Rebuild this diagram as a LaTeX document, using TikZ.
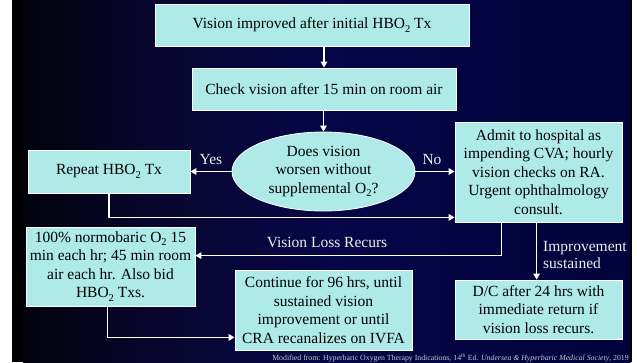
\documentclass[tikz,border=0pt]{standalone}
\usepackage{fontspec}
\setmainfont{Liberation Serif}
\usetikzlibrary{arrows.meta,shapes.geometric,calc}
\definecolor{boxfill}{RGB}{174,234,232}
\definecolor{bgA}{RGB}{2,2,12}
\definecolor{bgB}{RGB}{8,6,45}
\definecolor{bgC}{RGB}{6,6,72}
\definecolor{bgD}{RGB}{2,2,60}
\definecolor{lbl}{RGB}{238,238,238}
\definecolor{footc}{RGB}{200,200,212}
\newcommand{\subtwo}{\raisebox{-3.6pt}{\fontsize{10.5}{10.5}\selectfont 2}}
\begin{document}
\begin{tikzpicture}[x=1pt,y=-1pt,
  box/.style={draw=white, line width=0.8pt, fill=boxfill, text=black, inner sep=0pt,
    align=center, font=\fontsize{15.5}{18.5}\selectfont},
  conn/.style={draw=white, line width=1.5pt, -{Triangle[length=6pt,width=6.5pt]}},
  lab/.style={text=lbl, inner sep=0pt, font=\fontsize{15.5}{18.5}\selectfont}]
\useasboundingbox (0,0) rectangle (637,362);
% background
\fill[white] (0,0) rectangle (637,362);
\fill[black] (12,0) rectangle (23.5,362);
\shade[left color=bgA, right color=bgB] (23,0) rectangle (150.5,362);
\shade[left color=bgB, right color=bgC] (150,0) rectangle (330.5,362);
\shade[left color=bgC, right color=bgD] (330,0) rectangle (630.5,362);
\fill[black] (630,0) rectangle (632,362);
% nodes
\node[box, minimum width=314pt, minimum height=42pt] (b1) at (312,25) {Vision improved after initial HBO\subtwo{} Tx};
\node[box, minimum width=264pt, minimum height=42pt] (b2) at (324,89) {Check vision after 15 min on room air};
\node[box, ellipse, minimum width=183pt, minimum height=79pt] (q) at (323.5,171.5) {Does vision\\worsen without\\supplemental O\subtwo?};
\node[box, minimum width=162pt, minimum height=43pt] (rep) at (109,171.5) {Repeat HBO\subtwo{} Tx};
\node[box, minimum width=167pt, minimum height=100pt] (adm) at (538.5,172) {Admit to hospital as\\impending CVA; hourly\\vision checks on RA.\\Urgent ophthalmology\\consult.};
\node[box, minimum width=169pt, minimum height=79pt] (nb) at (110.5,266.5) {100\% normobaric O\subtwo{} 15\\min each hr; 45 min room\\air each hr. Also bid\\HBO\subtwo{} Txs.};
\node[box, minimum width=177pt, minimum height=80pt] (cont) at (323.5,310) {Continue for 96 hrs, until\\sustained vision\\improvement or until\\CRA recanalizes on IVFA};
\node[box, minimum width=167pt, minimum height=59pt] (dc) at (538.5,309.5) {D/C after 24 hrs with\\immediate return if\\vision loss recurs.};
% connectors
\draw[conn] (b2.north |- b1.south) -- (b2.north);
\draw[conn] (q.north |- b2.south) -- (q.north);
\draw[conn] (q.west) -- (rep.east);
\draw[conn] (q.east) -- (q.east -| adm.west);
\draw[conn] (rep.south) |- ($(adm.south west)+(0,-5)$);
\draw[conn] ($(adm.south west)+(47,0)$) |- ($(nb.north east)+(0,29)$);
\draw[conn] ($(adm.south west)+(82,0)$) -- ($(dc.north west)+(82,0)$);
\draw[conn] ($(nb.south)+(-3,0)$) |- ($(cont.south west)+(0,-13)$);
% labels
\node[lab] (yes) at (211,159) {Yes};
\node[lab] (no) at (432,159) {No};
\node[lab] (vlr) at (327,242) {Vision Loss Recurs};
\node[lab, align=left, anchor=west, font=\fontsize{15.5}{16.5}\selectfont] (imp) at (543,255) {Improvement\\sustained};
\node[anchor=east, text=footc, inner sep=0pt, font=\fontsize{7.8}{9}\selectfont] (foot) at (629,358) {Modified from: Hyperbaric Oxygen Therapy Indications, 14\textsuperscript{th} Ed. \textit{Undersea \& Hyperbaric Medical Society}, 2019};
\end{tikzpicture}
\end{document}
